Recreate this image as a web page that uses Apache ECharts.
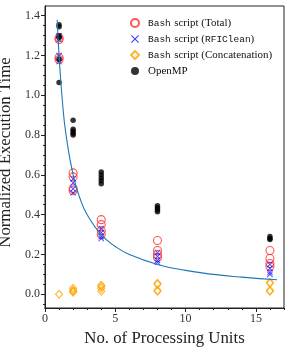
<!DOCTYPE html>
<html><head><meta charset="utf-8">
<script src="https://cdn.jsdelivr.net/npm/echarts@6/dist/echarts.min.js"></script>
<style>html,body{margin:0;padding:0;background:#fff}#c{width:291px;height:349px}</style>
</head><body><div id="c"></div>
<script>
const units = [1, 2, 4, 8, 16];
const totalTimes = [[1.29,1.28,1.19,1.18],[0.61,0.59,0.53,0.52],[0.375,0.35,0.32,0.30],[0.27,0.22,0.20,0.185],[0.22,0.18,0.155,0.14]];
const rficleanTimes = [[1.30,1.28,1.20,1.17],[0.58,0.56,0.53,0.51],[0.33,0.31,0.29,0.28],[0.21,0.19,0.17,0.16],[0.15,0.13,0.11,0.10]];
const concatTimes = [[0.0],[0.03,0.02,0.015,0.01],[0.045,0.04,0.03,0.015],[0.055,0.05,0.02,0.015],[0.06,0.055,0.02,0.015]];
const openmpTimes = [[1.355,1.345,1.30,1.29,1.18,1.065],[0.875,0.83,0.82,0.81,0.80],[0.615,0.60,0.585,0.57,0.555],[0.445,0.435,0.425,0.415],[0.29,0.28,0.275]];
const curveX = [0.87, 1, 1.25, 1.5, 2, 2.5, 3, 4, 5, 6, 8, 10, 12, 14, 16.5];
const curveY = [1.38, 1.2, 0.96, 0.80, 0.60, 0.48, 0.40, 0.30, 0.24, 0.20, 0.15, 0.12, 0.10, 0.086, 0.073];
const xTicks = [0, 5, 10, 15];
const yTicks = [0, 0.2, 0.4, 0.6, 0.8, 1.0, 1.2, 1.4];
const yMinor = [-0.05,0,0.05,0.1,0.15,0.2,0.25,0.3,0.35,0.4,0.45,0.5,0.55,0.6,0.65,0.7,0.75,0.8,0.85,0.9,0.95,1.0,1.05,1.1,1.15,1.2,1.25,1.3,1.35,1.4];
const xMinor = [0,1,2,3,4,5,6,7,8,9,10,11,12,13,14,15,16,17];
const names = ['Bash script (Total)','Bash script (RFIClean)','Bash script (Concatenation)','OpenMP'];

function pairs(groups){const out=[];groups.forEach((g,i)=>g.forEach(v=>out.push([units[i],v])));return out;}
const curve = curveX.map((x,i)=>[x,curveY[i]]);

const serif = 'Liberation Serif';
const mono = 'Liberation Mono';
const YMIN=-0.069, YMAX=1.449, XMIN=0, XMAX=17;
const chart = echarts.init(document.getElementById('c'), null, {renderer:'canvas'});
const axisCommon = {
  axisLine:{show:true,onZero:false,lineStyle:{color:'#222',width:1}},
  splitLine:{show:false}
};
const xCross = 'path://M0,1 L1,0 L5,4 L9,0 L10,1 L6,5 L10,9 L9,10 L5,6 L1,10 L0,9 L4,5 Z';
chart.setOption({
  animation:false,
  grid:{left:45,right:7,top:6,bottom:41,show:true,borderColor:'#222',borderWidth:1,backgroundColor:'transparent',
    containLabel:false,outerBoundsMode:'none'},
  legend:{
    orient:'vertical', left:125, top:12, itemWidth:8, itemHeight:8, itemGap:4,
    data:names,
    formatter:function(n){
      if(n===names[0]) return '{m|Bash} {s|script (Total)}';
      if(n===names[1]) return '{m|Bash} {s|script (}{m|RFIClean}{s|)}';
      if(n===names[2]) return '{m|Bash} {s|script (Concatenation)}';
      return '{s|OpenMP}';
    },
    textStyle:{color:'#111',padding:[0,0,0,4],lineHeight:12,rich:{
      m:{fontFamily:mono,fontSize:9.5,color:'#111',lineHeight:12},
      s:{fontFamily:serif,fontSize:11,color:'#111',lineHeight:12}
    }}
  },
  xAxis:[
    Object.assign({type:'value',min:XMIN,max:XMAX,position:'bottom',
      name:'No. of Processing Units',nameLocation:'middle',nameGap:18,
      nameTextStyle:{fontFamily:serif,fontSize:16.8,color:'#222'},
      axisTick:{show:true,inside:false,length:4,customValues:xTicks,lineStyle:{color:'#222'}},
      axisLabel:{show:true,customValues:xTicks,fontFamily:serif,fontSize:12,color:'#333',margin:5}},axisCommon),
    Object.assign({type:'value',min:XMIN,max:XMAX,position:'bottom',
      axisTick:{show:true,inside:false,length:2,customValues:xMinor,lineStyle:{color:'#222'}},
      axisLabel:{show:false}},axisCommon)
  ],
  yAxis:[
    Object.assign({type:'value',min:YMIN,max:YMAX,position:'left',
      name:'Normalized Execution Time',nameLocation:'middle',nameGap:24,nameRotate:90,
      nameTextStyle:{fontFamily:serif,fontSize:16.8,color:'#222',padding:[0,0,0,9]},
      axisTick:{show:true,inside:false,length:4,customValues:yTicks,lineStyle:{color:'#222'}},
      axisLabel:{show:true,customValues:yTicks,fontFamily:serif,fontSize:12,color:'#333',margin:5,
        formatter:v=>v.toFixed(1)}},axisCommon),
    Object.assign({type:'value',min:YMIN,max:YMAX,position:'left',
      axisTick:{show:true,inside:false,length:2,customValues:yMinor,lineStyle:{color:'#222'}},
      axisLabel:{show:false}},axisCommon)
  ],
  series:[
    {name:names[0],type:'scatter',data:pairs(totalTimes),symbol:'circle',symbolSize:8,
      itemStyle:{color:'rgba(0,0,0,0)',borderColor:'#ff2a2a',borderWidth:1.1}},
    {name:names[1],type:'scatter',data:pairs(rficleanTimes),symbol:xCross,symbolSize:6,
      itemStyle:{color:'#1010ff'}},
    {name:names[2],type:'scatter',data:pairs(concatTimes),symbol:'diamond',symbolSize:[7,8],
      itemStyle:{color:'rgba(0,0,0,0)',borderColor:'#ffa500',borderWidth:1.1}},
    {name:names[3],type:'scatter',data:pairs(openmpTimes),symbol:'circle',symbolSize:5.5,
      itemStyle:{color:'#000'}},
    {name:'fit',type:'line',data:curve,smooth:true,showSymbol:false,symbol:'none',
      lineStyle:{color:'#1f77b4',width:1.1},z:5}
  ]
});
</script></body></html>
